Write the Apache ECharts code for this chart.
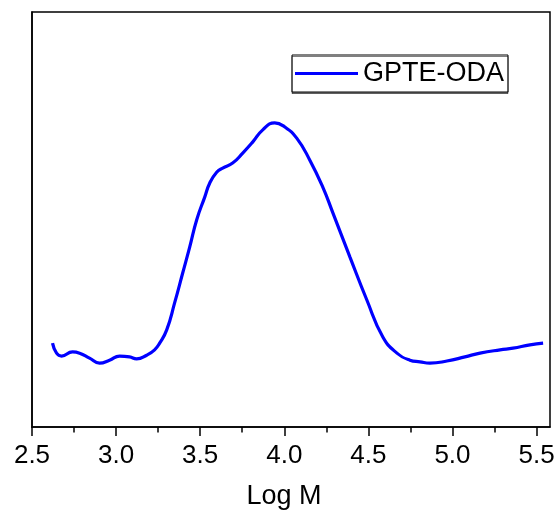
<!DOCTYPE html>
<html>
<head>
<meta charset="utf-8">
<script src="https://cdn.jsdelivr.net/npm/echarts@6/dist/echarts.min.js"></script>
<style>
  html, body { margin: 0; padding: 0; background: #fff; }
  #chart { width: 558px; height: 510px; }
</style>
</head>
<body>
<div id="chart"></div>
<script>
// GPC curve (Log M vs. arbitrary detector response)
const seriesName = 'GPTE-ODA';
const logM = [2.622, 2.646, 2.676, 2.741, 2.783, 2.842, 2.902, 2.961, 3.021, 3.080, 3.122, 3.182, 3.229, 3.259, 3.301, 3.348, 3.396, 3.438, 3.479, 3.527, 3.557, 3.598, 3.634, 3.693, 3.753, 3.813, 3.872, 3.943, 4.003, 4.074, 4.152, 4.229, 4.289, 4.390, 4.491, 4.586, 4.670, 4.747, 4.807, 4.866, 4.967, 5.074, 5.164, 5.283, 5.360, 5.461, 5.539];
const response = [20.2, 17.8, 17.1, 18.1, 17.8, 16.6, 15.4, 16.1, 17.1, 16.9, 16.4, 17.3, 18.6, 20.2, 23.4, 29.9, 37.1, 43.4, 49.9, 55.4, 58.8, 61.4, 62.4, 63.6, 66.0, 68.7, 71.6, 73.3, 72.3, 69.6, 64.3, 57.8, 51.6, 41.0, 30.6, 21.7, 17.8, 16.1, 15.7, 15.4, 15.9, 16.9, 17.8, 18.6, 19.0, 19.8, 20.2];
const majorTicks = [2.5, 3.0, 3.5, 4.0, 4.5, 5.0, 5.5];
const minorTicks = [2.75, 3.25, 3.75, 4.25, 4.75, 5.25];

const chart = echarts.init(document.getElementById('chart'));
const font = 'Liberation Sans, Arial, sans-serif';

const option = {
  backgroundColor: '#fff',
  animation: false,
  grid: {
    left: 32,
    right: 8,
    top: 12,
    bottom: 83,
    outerBoundsMode: 'none',
    show: true,
    borderColor: '#000',
    borderWidth: 1.5
  },
  legend: {
    left: 292,
    top: 55,
    padding: [5, 4, 5, 3],
    icon: 'rect',
    itemWidth: 63,
    itemHeight: 3,
    itemGap: 7,
    borderColor: '#000',
    borderWidth: 1,
    backgroundColor: '#fff',
    shadowColor: 'rgba(0,0,0,0.5)',
    shadowOffsetY: 1.5,
    shadowBlur: 0,
    textStyle: { fontFamily: font, fontSize: 27, color: '#000' },
    data: [seriesName]
  },
  xAxis: [
    {
      type: 'value',
      min: 2.5,
      max: 5.58,
      interval: 0.5,
      name: 'Log M',
      nameLocation: 'middle',
      nameGap: 56,
      nameTextStyle: { fontFamily: font, fontSize: 27, color: '#000', padding: [0, 14, 0, 0] },
      axisLine: { show: true, lineStyle: { color: '#000', width: 1.5 } },
      axisTick: { show: true, length: 9, lineStyle: { color: '#000', width: 1.5 }, customValues: majorTicks },
      axisLabel: {
        fontFamily: font, fontSize: 26, color: '#000', margin: 16,
        customValues: majorTicks,
        formatter: v => v.toFixed(1)
      },
      splitLine: { show: false }
    },
    {
      type: 'value',
      min: 2.5,
      max: 5.58,
      position: 'bottom',
      axisLine: { show: false },
      axisTick: { show: true, length: 5.5, lineStyle: { color: '#000', width: 1.5 }, customValues: minorTicks },
      axisLabel: { show: false },
      splitLine: { show: false }
    }
  ],
  yAxis: {
    type: 'value',
    min: 0,
    max: 100,
    axisLine: { show: true, lineStyle: { color: '#000', width: 1.5 } },
    axisTick: { show: false },
    axisLabel: { show: false },
    splitLine: { show: false }
  },
  series: [
    {
      name: seriesName,
      type: 'line',
      xAxisIndex: 0,
      data: logM.map((x, i) => [x, response[i]]),
      smooth: 0.5,
      symbol: 'none',
      lineStyle: { color: '#0000ff', width: 3.2 },
      itemStyle: { color: '#0000ff' }
    }
  ]
};

chart.setOption(option);
</script>
</body>
</html>
